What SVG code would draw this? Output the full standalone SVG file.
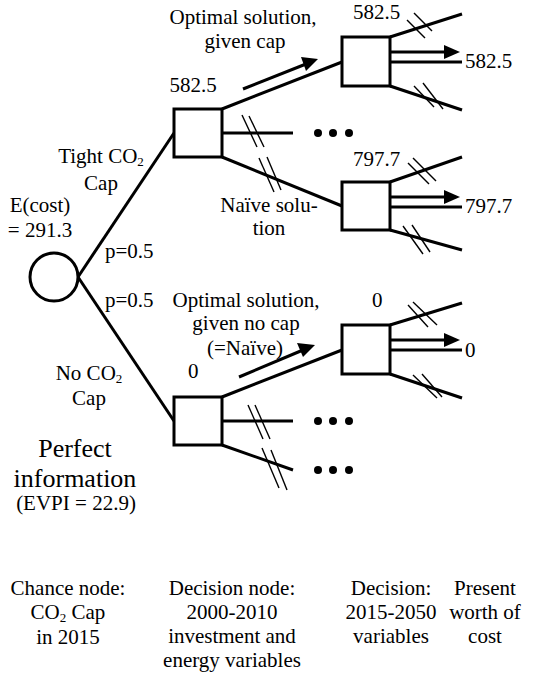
<svg xmlns="http://www.w3.org/2000/svg" width="537" height="677" viewBox="0 0 537 677">
<style>
.t{font-family:"Liberation Serif","Times New Roman",serif;font-size:21px;fill:#000}
.m{text-anchor:middle}
.big{font-size:26px}
.sub{font-size:13px;baseline-shift:-3px}
.node{fill:#fff;stroke:#000;stroke-width:3}
.c{stroke:#000;stroke-width:3;fill:none}
.h{stroke:#000;stroke-width:1.4;fill:none}
.dot{fill:#000}
.ah{fill:#000}
</style>
<rect width="537" height="677" fill="#fff"/>
<g id="connectors">
  <line class="c" x1="78" y1="277" x2="174" y2="133"/>
  <line class="c" x1="78" y1="277" x2="174" y2="421"/>
  <line class="c" x1="222" y1="109" x2="342" y2="62"/>
  <line class="c" x1="222" y1="133" x2="293" y2="133"/>
  <line class="c" x1="222" y1="157" x2="342" y2="206"/>
  <line class="c" x1="222" y1="397" x2="342" y2="350"/>
  <line class="c" x1="222" y1="421" x2="293" y2="421"/>
  <line class="c" x1="222" y1="445" x2="293" y2="470"/>
  <line class="c" x1="390" y1="37" x2="462" y2="14"/>
  <line class="c" x1="390" y1="86" x2="462" y2="110"/>
  <line class="c" x1="390" y1="52" x2="446" y2="52"/>
  <polygon class="ah" points="444,45 460,52 444,59"/>
  <line class="c" x1="390" y1="62" x2="462" y2="62"/>
  <line class="c" x1="390" y1="182" x2="462" y2="157"/>
  <line class="c" x1="390" y1="230" x2="462" y2="250"/>
  <line class="c" x1="390" y1="197" x2="446" y2="197"/>
  <polygon class="ah" points="444,190 460,197 444,204"/>
  <line class="c" x1="390" y1="207" x2="462" y2="207"/>
  <line class="c" x1="390" y1="325" x2="462" y2="303"/>
  <line class="c" x1="390" y1="374" x2="462" y2="398"/>
  <line class="c" x1="390" y1="340" x2="446" y2="340"/>
  <polygon class="ah" points="444,333 460,340 444,347"/>
  <line class="c" x1="390" y1="350" x2="462" y2="350"/>
  <line class="c" x1="243" y1="89" x2="306" y2="64"/>
  <polygon class="ah" points="301,57 318,59 306,71"/>
  <line class="c" x1="239" y1="377" x2="303" y2="350"/>
  <polygon class="ah" points="297,343 315,345 303,357"/>
  <line class="h" x1="242" y1="115" x2="257" y2="147"/>
  <line class="h" x1="249" y1="116" x2="264" y2="147"/>
  <line class="h" x1="259" y1="158" x2="274" y2="192"/>
  <line class="h" x1="267" y1="157" x2="281" y2="190"/>
  <line class="h" x1="248" y1="405" x2="263" y2="439"/>
  <line class="h" x1="255" y1="405" x2="270" y2="439"/>
  <line class="h" x1="262" y1="448" x2="279" y2="488"/>
  <line class="h" x1="271" y1="450" x2="287" y2="490"/>
  <line class="h" x1="407" y1="20" x2="425" y2="38"/>
  <line class="h" x1="414" y1="13" x2="432" y2="31"/>
  <line class="h" x1="414" y1="86" x2="434" y2="107"/>
  <line class="h" x1="423" y1="83" x2="443" y2="109"/>
  <line class="h" x1="408" y1="163" x2="429" y2="184"/>
  <line class="h" x1="413" y1="158" x2="436" y2="181"/>
  <line class="h" x1="403" y1="226" x2="423" y2="254"/>
  <line class="h" x1="412" y1="225" x2="430" y2="252"/>
  <line class="h" x1="408" y1="305" x2="428" y2="327"/>
  <line class="h" x1="413" y1="302" x2="437" y2="325"/>
  <line class="h" x1="413" y1="375" x2="437" y2="398"/>
  <line class="h" x1="422" y1="374" x2="442" y2="397"/>
  <circle class="dot" cx="318" cy="133" r="4"/><circle class="dot" cx="333" cy="133" r="4"/><circle class="dot" cx="349" cy="133" r="4"/>
  <circle class="dot" cx="318" cy="421" r="4"/><circle class="dot" cx="333" cy="421" r="4"/><circle class="dot" cx="349" cy="421" r="4"/>
  <circle class="dot" cx="318" cy="470" r="4"/><circle class="dot" cx="333" cy="470" r="4"/><circle class="dot" cx="349" cy="470" r="4"/>
</g>
<g id="chance">
  <circle class="node" cx="54" cy="277" r="24"/>
</g>
<g id="decA"><rect class="node" x="174" y="109" width="48" height="48"/></g>
<g id="decB"><rect class="node" x="342" y="37" width="48" height="49"/></g>
<g id="decC"><rect class="node" x="342" y="182" width="48" height="48"/></g>
<g id="decD"><rect class="node" x="174" y="397" width="48" height="48"/></g>
<g id="decE"><rect class="node" x="342" y="325" width="48" height="49"/></g>
<g id="labels">
  <text class="t m" x="243" y="24">Optimal solution,</text>
  <text class="t m" x="245" y="48">given cap</text>
  <text class="t" x="353" y="19">582.5</text>
  <text class="t m" x="193" y="92">582.5</text>
  <text class="t" x="465" y="68">582.5</text>
  <text class="t" x="353" y="166">797.7</text>
  <text class="t" x="465" y="213">797.7</text>
  <text class="t m" x="269" y="212">Naïve solu-</text>
  <text class="t m" x="269" y="235">tion</text>
  <text class="t m" x="101" y="163">Tight CO<tspan class="sub">2</tspan></text>
  <text class="t m" x="101" y="190">Cap</text>
  <text class="t m" x="40" y="212">E(cost)</text>
  <text class="t m" x="40" y="237">= 291.3</text>
  <text class="t" x="105" y="258">p=0.5</text>
  <text class="t" x="105" y="307">p=0.5</text>
  <text class="t m" x="246" y="307">Optimal solution,</text>
  <text class="t m" x="246" y="330">given no cap</text>
  <text class="t m" x="245" y="355">(=Naïve)</text>
  <text class="t" x="372" y="307">0</text>
  <text class="t" x="188" y="378">0</text>
  <text class="t" x="465" y="357">0</text>
  <text class="t m" x="89" y="380">No CO<tspan class="sub">2</tspan></text>
  <text class="t m" x="89" y="405">Cap</text>
  <text class="t m big" x="75" y="457">Perfect</text>
  <text class="t m big" x="75" y="487">information</text>
  <text class="t m" x="76" y="510">(EVPI = 22.9)</text>
  <text class="t m" x="68" y="595">Chance node:</text>
  <text class="t m" x="68" y="619">CO<tspan class="sub">2</tspan> Cap</text>
  <text class="t m" x="68" y="644">in 2015</text>
  <text class="t m" x="232" y="595">Decision node:</text>
  <text class="t m" x="232" y="619">2000-2010</text>
  <text class="t m" x="232" y="643">investment and</text>
  <text class="t m" x="232" y="667">energy variables</text>
  <text class="t m" x="391" y="595">Decision:</text>
  <text class="t m" x="391" y="619">2015-2050</text>
  <text class="t m" x="391" y="643">variables</text>
  <text class="t m" x="485" y="595">Present</text>
  <text class="t m" x="485" y="619">worth of</text>
  <text class="t m" x="485" y="643">cost</text>
</g>
</svg>
